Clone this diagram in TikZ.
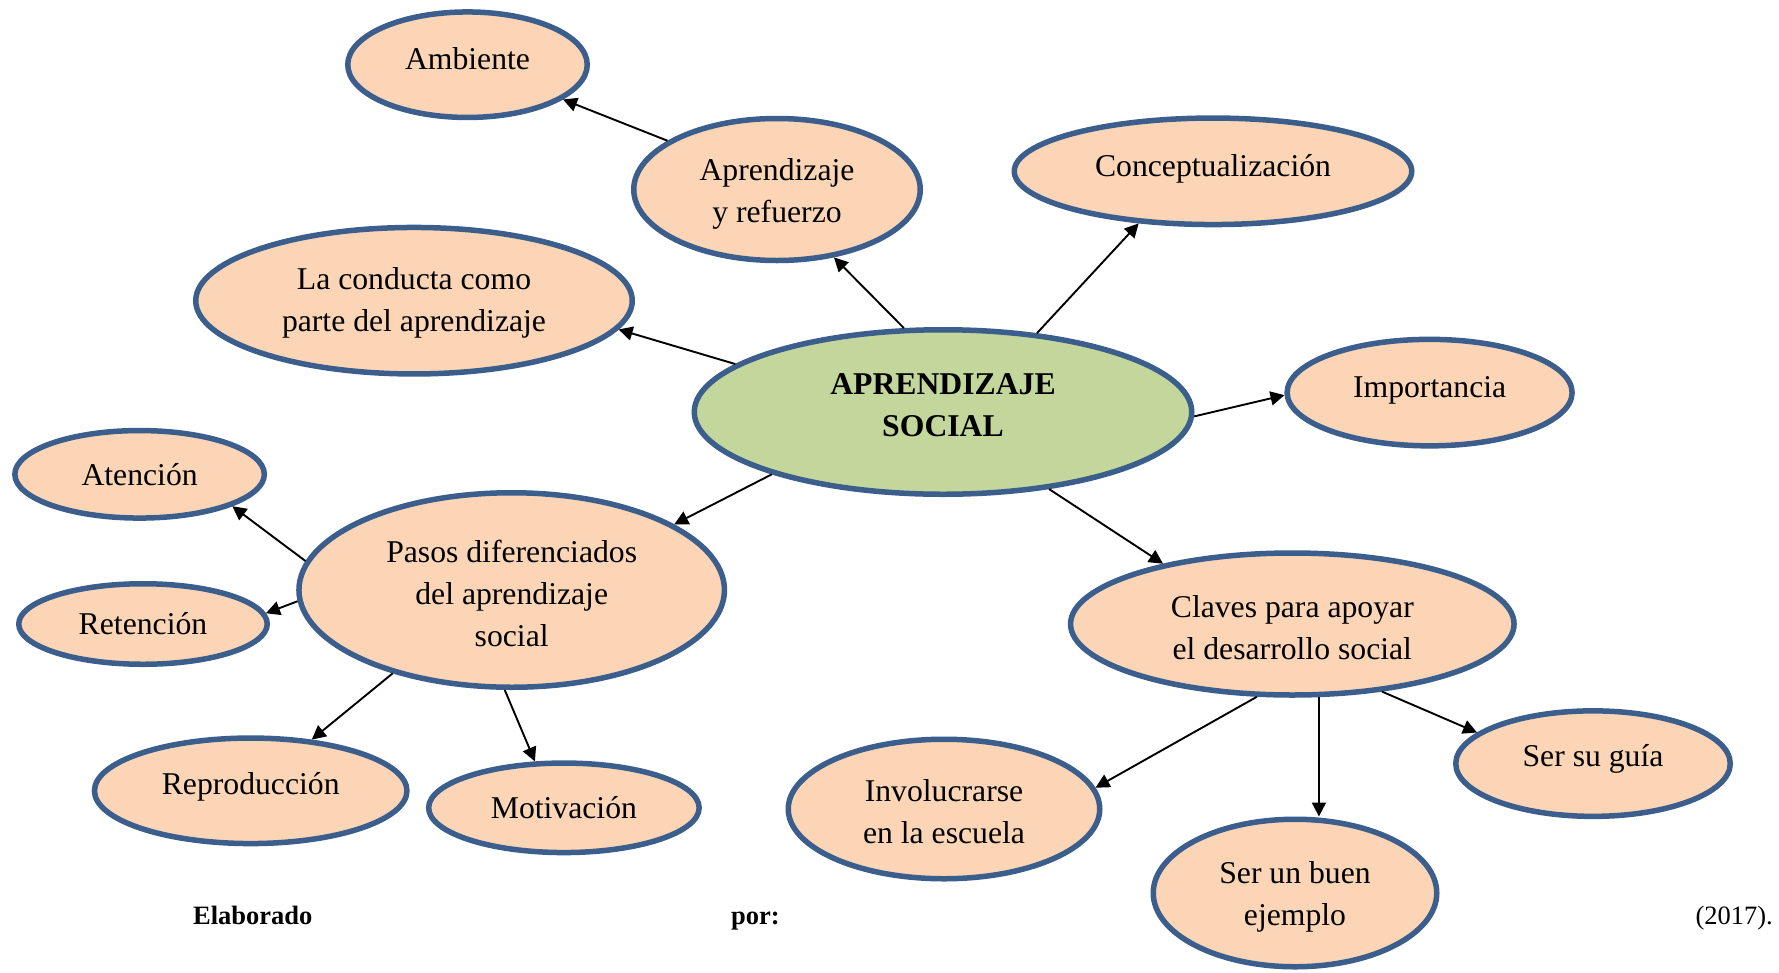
\documentclass[tikz,border=0pt]{standalone}
\usepackage{fontspec}
\setmainfont{Liberation Serif}
\usetikzlibrary{shapes.geometric,arrows.meta}
\definecolor{peach}{HTML}{FBD5B5}
\definecolor{bordercol}{HTML}{3B5E8D}
\definecolor{greenfill}{HTML}{C3D69B}
\newcommand\tdn[1]{\rule{0pt}{#1pt}}
\tikzset{
  bub/.style={ellipse, draw=bordercol, line width=5.5pt, fill=peach, align=center, inner sep=0pt,
    font=\fontsize{31.7}{42}\selectfont},
  sz/.style 2 args={minimum width=#1pt, minimum height=#2pt},
  tup/.style={execute at end node={\rule[-#1pt]{0pt}{0pt}}},
  arr/.style={line width=1.9pt, -{Triangle[length=14pt,width=14pt]}},
  foot/.style={inner sep=0pt, font=\fontsize{26.5}{30}\selectfont}
}
\begin{document}
\begin{tikzpicture}[x=1pt,y=-1pt]
\useasboundingbox (0,0) rectangle (1779,972);
\node[bub, sz={239.5}{105.5}, tup=11.4] (amb) at (467.5,64.7) {Ambiente};
\node[bub, sz={286.5}{142}] (apr) at (777,189.5) {\tdn{30.7}Aprendizaje\\y refuerzo};
\node[bub, sz={397.5}{106.5}, tup=11.5] (con) at (1213,171.3) {Conceptualización};
\node[bub, sz={436.5}{146.5}] (cond) at (414,300.7) {\tdn{26.3}La conducta como\\parte del aprendizaje};
\node[bub, sz={497.5}{164.5}, fill=greenfill, tup=14] (cen) at (943,412) {\bfseries APRENDIZAJE\\\bfseries SOCIAL};
\node[bub, sz={285}{106.5}, tup=11.5] (imp) at (1429.6,392.6) {Importancia};
\node[bub, sz={249.5}{87.5}] (ate) at (139.6,474.3) {Atención};
\node[bub, sz={425.5}{194.5}] (pas) at (511.7,590) {\tdn{28.5}Pasos diferenciados\\del aprendizaje\\social};
\node[bub, sz={248.5}{80.5}] (ret) at (143,624) {Retención};
\node[bub, sz={443.5}{142}] (cla) at (1292.3,624) {\tdn{28.5}Claves para apoyar\\el desarrollo social};
\node[bub, sz={312.5}{105.5}, tup=13.7] (rep) at (250.7,790.8) {Reproducción};
\node[bub, sz={270.5}{89.5}] (mot) at (563.9,807.8) {Motivación};
\node[bub, sz={311.5}{139.5}] (inv) at (944,809) {\tdn{26.3}Involucrarse\\en la escuela};
\node[bub, sz={274.5}{105.5}, tup=15.9] (gui) at (1593,763.6) {Ser su guía};
\node[bub, sz={283.5}{147.5}] (buen) at (1295,893) {\tdn{30.7}Ser un buen\\ejemplo};

\draw[arr] (apr.156.9) -- (amb.-20.3);
\draw[arr] (cen.115.1) -- (apr.-50.9);
\draw[arr] (cen.40.8) -- (con.215.5);
\draw[arr] (cen.167.8) -- (cond.-8.5);
\draw[arr] (cen.-1.5) -- (imp.181);
\draw[arr] (cen.200) -- (pas.22.2);
\draw[arr] (cen.-36.4) -- (cla.155.3);
\draw[arr] (pas.172.8) -- (ate.-19.7);
\draw[arr] (pas.183.7) -- (ret.5.4);
\draw[arr] (pas.215.7) -- (rep.40.3);
\draw[arr] (pas.266.2) -- (mot.122.7);
\draw[arr] (cla.244.8) -- (inv.8.9);
\draw[arr] (cla.-70.6) -- (cla.-70.6 |- buen.north);
\draw[arr] (cla.-37.6) -- (gui.165.4);

\node[foot, anchor=base west] (f1) at (193,924) {\bfseries Elaborado};
\node[foot, anchor=base west] (f2) at (731,924) {\bfseries por:};
\node[foot, anchor=base east] (f3) at (1773,924) {(2017).};
\end{tikzpicture}
\end{document}
